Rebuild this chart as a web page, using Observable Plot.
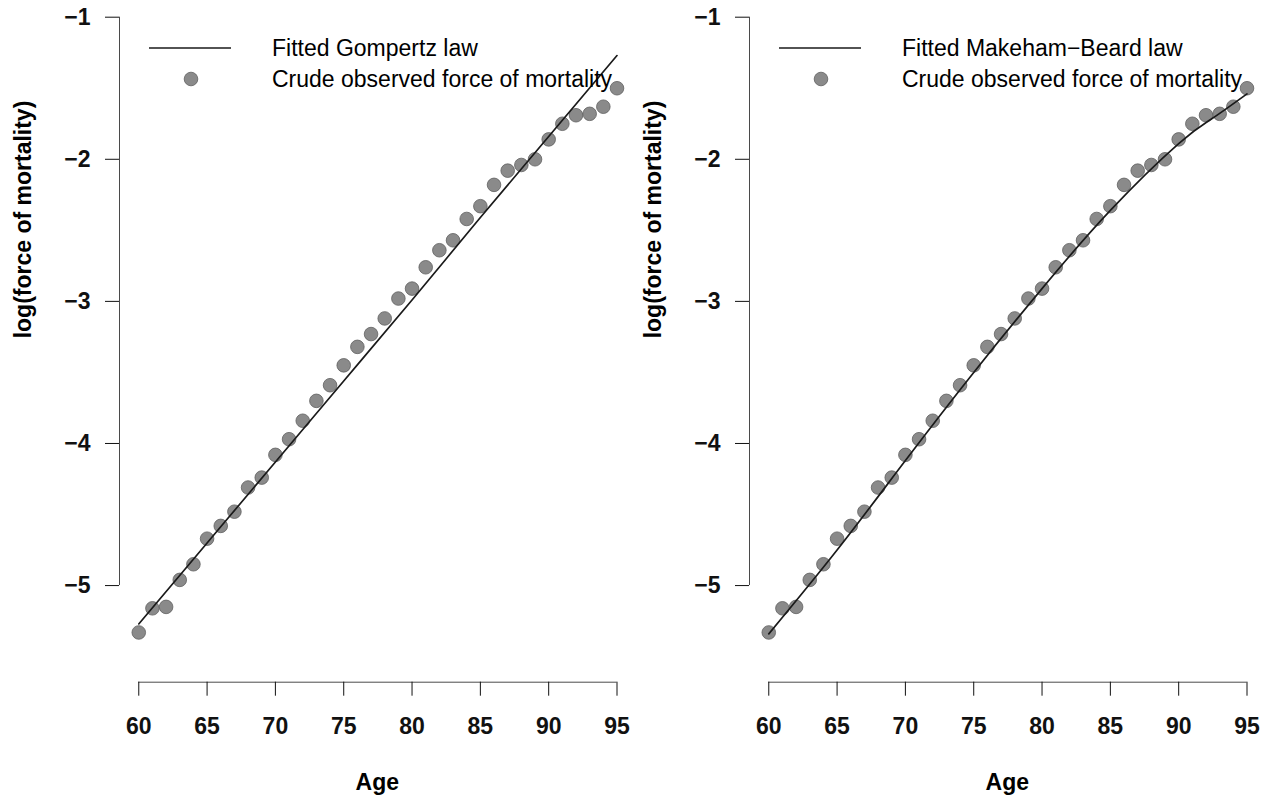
<!DOCTYPE html>
<html>
<head>
<meta charset="utf-8">
<script src="https://cdn.jsdelivr.net/npm/d3@7"></script>
<script src="https://cdn.jsdelivr.net/npm/@observablehq/plot@0.6"></script>
<style>
  html, body { margin: 0; padding: 0; background: #fff; }
  #wrap { display: flex; width: 1271px; height: 796px; overflow: hidden; }
  svg { display: block; }
</style>
</head>
<body>
<div id="wrap"></div>
<script>
// ---- data ----
const ages = [60,61,62,63,64,65,66,67,68,69,70,71,72,73,74,75,76,77,78,79,80,81,82,83,84,85,86,87,88,89,90,91,92,93,94,95];
const observed = [-5.33,-5.16,-5.15,-4.96,-4.85,-4.67,-4.58,-4.48,-4.31,-4.24,-4.08,-3.97,-3.84,-3.70,-3.59,-3.45,-3.32,-3.23,-3.12,-2.98,-2.91,-2.76,-2.64,-2.57,-2.42,-2.33,-2.18,-2.08,-2.04,-2.00,-1.86,-1.75,-1.69,-1.68,-1.63,-1.50];

const fitAges = [60,65,70,75,80,85,90,95];
const gompertzFit = [-5.27,-4.70,-4.13,-3.56,-2.99,-2.41,-1.84,-1.27];
const makehamAges = [60,65,70,75,80,85,90,92.5,95];
const makehamFit = [-5.34,-4.75,-4.12,-3.50,-2.91,-2.36,-1.89,-1.71,-1.54];

const xTicks = [60,65,70,75,80,85,90,95];
const yTicks = [-1,-2,-3,-4,-5];

const panels = [
  {width: 630, lineLabel: "Fitted Gompertz law", fitX: fitAges, fitY: gompertzFit},
  {width: 641, lineLabel: "Fitted Makeham\u2212Beard law", fitX: makehamAges, fitY: makehamFit}
];
const pointLabel = "Crude observed force of mortality";
const xLabel = "Age";
const yLabel = "log(force of mortality)";

// ---- layout ----
const FONT = "'Liberation Sans', Arial, Helvetica, sans-serif";
const xMin = 58.59, xMax = 95;
const yMin = -5.68, yMax = -0.8825;
const axisColor = "#4a4a4a";
const fmt = d3.format("d");

const obsData = ages.map((a, i) => ({age: a, value: observed[i]}));

for (const p of panels) {
  const fitData = p.fitX.map((a, i) => ({age: a, value: p.fitY[i]}));
  const chart = Plot.plot({
    width: p.width,
    height: 796,
    marginLeft: 119,
    marginRight: p.width - 616.5,
    marginTop: 0,
    marginBottom: 114.3,
    x: {domain: [xMin, xMax]},
    y: {domain: [yMin, yMax]},
    style: {fontFamily: FONT, background: "#fff", color: "#000", overflow: "visible"},
    marks: [
      Plot.ruleX([{x: xMin, y1: yTicks[yTicks.length - 1], y2: yTicks[0]}], {x: "x", y1: "y1", y2: "y2", stroke: axisColor, strokeWidth: 1}),
      Plot.ruleY([{y: yMin, x1: xTicks[0], x2: xTicks[xTicks.length - 1]}], {y: "y", x1: "x1", x2: "x2", stroke: axisColor, strokeWidth: 1}),
      Plot.axisY({ticks: yTicks, tickFormat: fmt, tickSize: 14, tickPadding: 15, fontSize: 23, fontWeight: "bold", label: null, color: "#111"}),
      Plot.axisX({ticks: xTicks, tickFormat: fmt, tickSize: 14, tickPadding: 21, fontSize: 23, fontWeight: "bold", label: null, color: "#111"}),
      Plot.dot(obsData, {x: "age", y: "value", r: 6.8, fill: "#8a8a8a", stroke: "#606060", strokeWidth: 0.8}),
      Plot.line(fitData, {x: "age", y: "value", curve: "natural", stroke: "#1a1a1a", strokeWidth: 1.7}),
      Plot.text([yLabel], {frameAnchor: "left", rotate: -90, dx: -96, dy: -3, fontSize: 23, fontWeight: "bold", fill: "#000"}),
      Plot.text([xLabel], {frameAnchor: "bottom", dx: 9, dy: 108, fontSize: 23, fontWeight: "bold", fill: "#000"})
    ]
  });
  // legend (inside plot, top-left)
  const svg = d3.select(chart);
  const lg = svg.append("g").attr("font-family", FONT).attr("font-size", 23).attr("text-anchor", "start");
  lg.append("line").attr("x1", 149).attr("x2", 231).attr("y1", 48).attr("y2", 48)
    .attr("stroke", "#1a1a1a").attr("stroke-width", 1.7);
  lg.append("circle").attr("cx", 191).attr("cy", 79).attr("r", 6.8)
    .attr("fill", "#8a8a8a").attr("stroke", "#606060").attr("stroke-width", 0.8);
  lg.append("text").attr("x", 272).attr("y", 48).attr("dy", "0.35em").attr("fill", "#000").text(p.lineLabel);
  lg.append("text").attr("x", 272).attr("y", 79).attr("dy", "0.35em").attr("fill", "#000").text(pointLabel);
  document.getElementById("wrap").appendChild(chart);
}
</script>
</body>
</html>
